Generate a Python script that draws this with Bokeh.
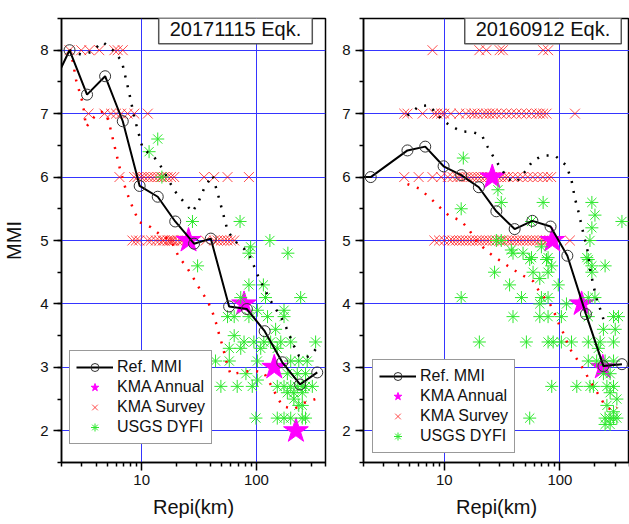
from bokeh.plotting import figure
from bokeh.layouts import row
from bokeh.models import (Range1d, FixedTicker, SingleIntervalTicker, NumeralTickFormatter,
                          Legend, LegendItem, Label)
from bokeh.embed import file_html
from bokeh.resources import INLINE

FONT = "Liberation Sans"

# ---------------- Event 20171115 ----------------
title17 = "20171115 Eqk."
ref17_x = [1.9, 2.35, 3.34, 4.8, 6.84, 9.6, 13.8, 19.6, 28.6, 40, 57.8, 82.6, 118, 168, 240, 339]
ref17_y = [7.65, 8.0, 7.30, 7.59, 6.88, 5.86, 5.69, 5.30, 4.95, 5.03, 3.96, 3.92, 3.57, 3.08, 2.73, 2.92]

up17_x = [2.35, 2.97, 3.6, 4.58, 5.6, 6.7, 7.8, 8.6, 10.2, 12.9, 15.2, 19.2, 23.5, 27.7, 31.6, 35,
          41.4, 47.3, 56, 63.9, 78, 89, 106, 133, 174, 212, 235, 268, 307, 335]
up17_y = [8.0, 7.93, 7.97, 8.13, 8.0, 7.83, 7.32, 6.95, 6.45, 6.31, 6.13, 5.79, 5.6, 5.45, 5.63, 5.82,
          6.03, 5.66, 5.16, 5.0, 4.87, 4.73, 4.39, 4.05, 3.71, 3.34, 3.18, 3.15, 3.21, 3.31]

lo17_x = [2.35, 2.51, 2.68, 3.07, 3.28, 3.87, 4.43, 4.9, 5.22, 5.78, 6.4, 7.3, 8.3, 9.5, 12.0, 14.7,
          18, 21.2, 24.3, 28.6, 32.7, 37.5, 41.4, 44.3, 47.3, 50.6, 56, 59.8, 73, 92, 116, 133, 147,
          168, 212, 260, 328]
lo17_y = [8.0, 7.82, 7.53, 7.16, 6.79, 6.95, 7.03, 7.0, 6.84, 6.5, 6.16, 5.79, 5.53, 5.29, 5.21, 5.08,
          5.0, 4.73, 4.6, 4.39, 4.21, 4.05, 3.87, 3.71, 3.52, 3.34, 3.02, 2.89, 2.92, 2.95, 2.92, 2.73,
          2.58, 2.39, 2.34, 2.44, 2.5]

ann17_x = [25.6, 78, 143, 221]
ann17_y = [5, 4, 3, 2]

sv17_x8 = [2.35, 2.97, 3.5, 4.27, 5.78, 6.18, 6.84]
sv17_x7 = [3.44, 4.73, 5.4, 5.98, 6.61, 7.55, 8.63, 11.3]
sv17_x6 = [6.4, 8.6, 9.2, 9.9, 10.5, 11.3, 12.0, 12.9, 13.8, 14.7, 15.7, 16.8, 18.0, 19.2, 35, 42.8,
           56, 86]
sv17_x5 = [8.3, 8.9, 9.5, 11.3, 12.1, 13.3, 14.2, 15.2, 15.7, 16.8, 17.4, 18.0, 18.6, 19.2, 20.6,
           22.0, 22.8, 24.3, 36.2, 42.8, 45.8, 49.0, 52.4, 56.0, 59.8, 64.0]

dyfi17_x = [13.8, 11.6, 15.0, 27.7, 72, 89, 131, 188, 30.7, 86, 86, 115, 73, 120, 243, 56, 64, 86,
            102, 125, 174, 174, 147, 64, 78, 95, 116, 133, 163, 199, 328, 58, 73, 109, 152, 44, 58,
            102, 199, 234, 277, 186, 227, 268, 81, 102, 49, 68, 92, 152, 174, 199, 227, 251, 268,
            307, 186, 212, 251, 212, 251, 234, 99, 152, 174, 199, 251, 268]
dyfi17_y = [6.6, 6.4, 6.0, 5.3, 5.3, 4.9, 5.0, 4.8, 4.6, 4.8, 4.3, 4.3, 4.1, 4.1, 4.1, 3.8, 3.8, 3.8,
            3.9, 3.8, 3.9, 3.8, 3.6, 3.5, 3.4, 3.4, 3.4, 3.4, 3.4, 3.4, 3.4, 3.3, 3.3, 3.3, 3.3, 3.1,
            3.1, 3.1, 3.1, 3.1, 3.1, 2.9, 2.9, 2.9, 2.9, 2.8, 2.7, 2.7, 2.7, 2.7, 2.7, 2.7, 2.7, 2.7,
            2.7, 2.7, 2.6, 2.6, 2.6, 2.5, 2.4, 2.4, 2.2, 2.2, 2.2, 2.2, 2.2, 2.2]

# ---------------- Event 20160912 ----------------
title16 = "20160912 Eqk."
ref16_x = [1.9, 2.31, 4.8, 6.84, 9.86, 14.0, 19.9, 28.2, 40.6, 57.8, 83, 116, 168, 238, 344]
ref16_y = [6.0, 6.0, 6.42, 6.48, 6.17, 6.03, 5.84, 5.46, 5.18, 5.31, 5.22, 4.76, 3.84, 3.02, 3.05]

up16_x = [4.8, 6.07, 7.4, 9.05, 11.0, 14, 17.6, 21.1, 23.8, 27.2, 31.1, 35.6, 42, 49.6, 58.6, 71.6,
          90.6, 114, 126, 135, 144, 160, 176, 182, 195, 208, 223, 238]
up16_y = [6.97, 7.12, 7.13, 6.95, 6.82, 6.72, 6.71, 6.66, 6.47, 6.29, 6.13, 5.97, 5.92, 6.08, 6.26,
          6.34, 6.34, 6.18, 5.95, 5.66, 5.47, 5.1, 4.79, 4.55, 4.29, 4.08, 3.92, 3.76]

lo16_x = [4.8, 6.07, 7.65, 9.05, 11, 14, 16.5, 18.8, 23.8, 30, 36.7, 46.5, 58.6, 67, 82, 90.6, 98.7,
          110, 120, 138, 160, 180, 206, 238, 282, 311]
lo16_y = [5.89, 5.82, 5.66, 5.53, 5.39, 5.31, 5.16, 5.0, 4.82, 4.69, 4.58, 4.46, 4.36, 4.18, 4.0,
          3.84, 3.67, 3.5, 3.31, 3.15, 2.97, 2.8, 2.63, 2.44, 2.31, 2.37]

ann16_x = [26, 86, 154, 235]
ann16_y = [6, 5, 4, 3]

sv16_x8 = [7.9, 20.1, 23.1, 30.1, 32.1, 71.6, 79.1]
sv16_x7 = [4.5, 4.8, 6.5, 8.2, 8.7, 9.4, 10, 11.4, 13.5, 15.4, 17.1, 18.2, 19.5, 21.5, 23, 24.6,
           26.3, 28.2, 31.1, 34.4, 38, 42, 46.5, 51.3, 56.8, 62.7, 67, 71.6, 76.6, 135]
sv16_x6 = [4.5, 6.0, 7.9, 9.4, 10.7, 11.8, 13.0, 13.8, 14.9, 15.9, 17.1, 18.2, 19.5, 20.8, 22.3,
           23.8, 25.5, 27.2, 29.1, 31.1, 33.3, 35.5, 39.2, 43.2, 47.7, 52.7, 58.2, 64.3, 71.1, 78.5, 84]
sv16_x5 = [8.2, 9.0, 10, 11.1, 11.8, 12.6, 13.5, 14.4, 15.4, 16.5, 17.6, 18.9, 20.1, 21.5, 23, 24.6,
           26.3, 28.2, 30.1, 32.1, 34.4, 36.7, 39.2, 42, 44.8, 47.9, 51.3, 54.8, 58.6, 62.6, 67, 71.6,
           76.6, 81.9, 122]

dyfi16_x = [14.6, 14, 29.1, 31.1, 71.6, 56.8, 189, 201, 189, 182, 344, 28.2, 31.1, 38, 48, 56.8, 69.2,
            79, 171, 39.3, 54.8, 76.6, 84.8, 79, 58.6, 67, 27.2, 36.7, 96.8, 176, 189, 189, 246, 176,
            201, 14, 46.5, 69.2, 79, 114, 67, 39.3, 67, 79, 103, 176, 291, 321, 238, 301, 20.1, 51.3,
            79, 87.5, 103, 126, 176, 223, 291, 215, 176, 208, 246, 291, 238, 272, 85, 140, 182, 195,
            255, 291, 272, 311, 255, 291, 54.8, 246, 272, 291, 311, 246, 272]
dyfi16_y = [6.3, 5.5, 5.8, 5.6, 5.6, 5.3, 5.6, 5.4, 5.2, 5.0, 5.3, 5.0, 5.0, 4.85, 4.8, 4.73, 4.9,
            4.73, 4.73, 4.8, 4.7, 4.7, 4.6, 4.5, 4.5, 4.4, 4.5, 4.3, 4.3, 4.7, 4.6, 4.5, 4.6, 4.1,
            4.1, 4.1, 4.1, 4.1, 4.1, 4.0, 4.0, 3.8, 3.8, 3.8, 3.8, 3.8, 3.8, 3.8, 3.6, 3.6, 3.4, 3.4,
            3.4, 3.4, 3.4, 3.4, 3.4, 3.4, 3.4, 3.3, 3.1, 3.1, 3.1, 3.1, 2.9, 2.9, 2.7, 2.7, 2.7, 2.7,
            2.7, 2.7, 2.6, 2.5, 2.4, 2.3, 2.2, 2.2, 2.2, 2.2, 2.2, 2.1, 2.1]

X_MIN, X_MAX = 2, 400
x_major = [10, 100]
x_minor = [2, 3, 4, 5, 6, 7, 8, 9, 20, 30, 40, 50, 60, 70, 80, 90, 200, 300, 400]
legend_labels = ["Ref. MMI", "KMA Annual", "KMA Survey", "USGS DYFI"]


def make_panel(title, ref_x, ref_y, up_x, up_y, lo_x, lo_y, ann_x, ann_y,
               sv8, sv7, sv6, sv5, dy_x, dy_y, width, border_left, border_right,
               title_cx, legend_loc, ylabel):
    p = figure(width=width, height=524, x_axis_type="log", output_backend="svg",
               toolbar_location=None, x_range=Range1d(X_MIN, X_MAX), y_range=Range1d(1.5, 8.5),
               min_border_left=border_left, min_border_right=border_right,
               min_border_top=18, min_border_bottom=62)
    p.background_fill_color = "white"
    p.border_fill_color = "white"
    p.outline_line_color = "black"
    p.outline_line_width = 1.5

    p.xaxis.ticker = FixedTicker(ticks=x_major, minor_ticks=x_minor)
    p.xaxis.formatter = NumeralTickFormatter(format="0")
    p.yaxis.ticker = SingleIntervalTicker(interval=1, num_minor_ticks=2)
    for ax in (p.xaxis, p.yaxis):
        ax.major_tick_out = 8
        ax.major_tick_in = 0
        ax.minor_tick_out = 4
        ax.minor_tick_in = 0
        ax.axis_line_width = 1.5
        ax.major_tick_line_width = 1.5
        ax.minor_tick_line_width = 1.5
        ax.major_label_text_font = FONT
        ax.major_label_text_font_size = "15px"
        ax.major_label_text_color = "#111111"
        ax.axis_label_text_font = FONT
        ax.axis_label_text_font_size = "20px"
        ax.axis_label_text_font_style = "normal"
        ax.axis_label_text_color = "#111111"
    p.xaxis.axis_label = "Repi(km)"
    p.xaxis.major_label_standoff = 4
    p.xaxis.axis_label_standoff = 8
    p.yaxis.major_label_standoff = 5
    p.yaxis.axis_label = ylabel
    p.yaxis.axis_label_standoff = 12

    p.xgrid.grid_line_color = "#3535ff"
    p.ygrid.grid_line_color = "#3535ff"
    p.xgrid.grid_line_width = 1
    p.ygrid.grid_line_width = 1

    # KMA survey
    sx = sv8 + sv7 + sv6 + sv5
    sy = [8] * len(sv8) + [7] * len(sv7) + [6] * len(sv6) + [5] * len(sv5)
    r_sv = p.scatter(sx, sy, marker="x", size=14, line_color="#ff0000", line_alpha=0.7,
                     line_width=1)
    # KMA annual
    r_ann = p.scatter(ann_x, ann_y, marker="star", size=26, fill_color="#ff00ff",
                      line_color="#ff00ff")
    # DYFI
    r_dy = p.scatter(dy_x, dy_y, marker="asterisk", size=13, line_color="#2ee82e", line_width=1)
    # bounds
    p.line(up_x, up_y, line_color="black", line_width=2.5, line_dash="2 8")
    p.line(lo_x, lo_y, line_color="#ff0000", line_width=2.5, line_dash="2 8")
    # ref MMI (circles only where inside the axis range, as the frame clips them)
    r_line = p.line(ref_x, ref_y, line_color="black", line_width=2)
    cx = [x for x in ref_x if x >= X_MIN]
    cy = [y for x, y in zip(ref_x, ref_y) if x >= X_MIN]
    r_circ = p.scatter(cx, cy, marker="circle", size=11, fill_color=None,
                       line_color="#333333", line_width=1)

    legend = Legend(items=[
        LegendItem(label=legend_labels[0], renderers=[r_line, r_circ]),
        LegendItem(label=legend_labels[1], renderers=[r_ann]),
        LegendItem(label=legend_labels[2], renderers=[r_sv]),
        LegendItem(label=legend_labels[3], renderers=[r_dy]),
    ], location=legend_loc, orientation="vertical")
    legend.label_text_font = FONT
    legend.label_text_font_size = "16px"
    legend.label_text_color = "#111111"
    legend.glyph_width = 37
    legend.glyph_height = 20
    legend.label_height = 20
    legend.label_standoff = 4
    legend.spacing = 0
    legend.padding = 6
    legend.margin = 0
    legend.border_line_color = "#333333"
    legend.border_line_width = 1.2
    legend.background_fill_alpha = 1.0
    p.add_layout(legend)

    lab = Label(x=title_cx, y=433.7, x_units="screen", y_units="screen", text=title,
                text_align="center", text_baseline="middle", text_font=FONT,
                text_font_size="20px", text_color="#111111",
                border_line_color="#555555", border_line_width=1.5,
                background_fill_color="white",
                padding=dict(left=11, right=11, top=4, bottom=4))
    p.add_layout(lab)
    return p


p1 = make_panel(title17, ref17_x, ref17_y, up17_x, up17_y, lo17_x, lo17_y, ann17_x, ann17_y,
                sv17_x8, sv17_x7, sv17_x6, sv17_x5, dyfi17_x, dyfi17_y,
                330, 59, 5, 174.0, (8, 18), "MMI")
p2 = make_panel(title16, ref16_x, ref16_y, up16_x, up16_y, lo16_x, lo16_y, ann16_x, ann16_y,
                sv16_x8, sv16_x7, sv16_x6, sv16_x5, dyfi16_x, dyfi16_y,
                299, 33, 0, 179.5, (9, 9), None)

layout = row(p1, p2)
open("out.html", "w").write(file_html(layout, INLINE))
